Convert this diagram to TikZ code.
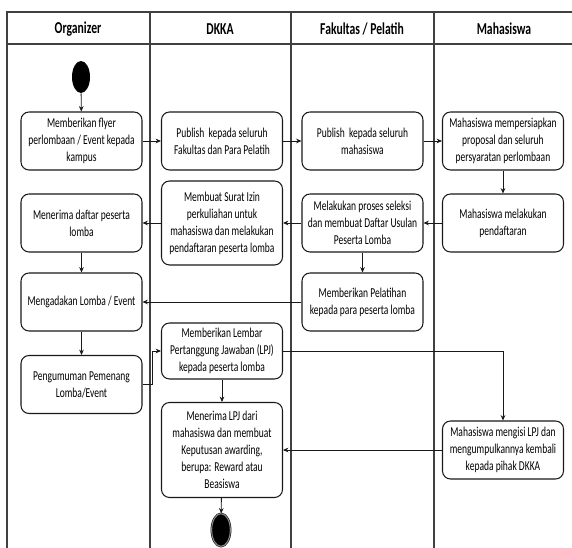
\documentclass[tikz,border=0pt]{standalone}
\usepackage{fontspec}
\setmainfont{Carlito}[FakeStretch=0.7]
\usetikzlibrary{arrows.meta,shapes.geometric}

\begin{document}
\begin{tikzpicture}[x=0.75pt,y=-0.75pt,
    lane/.style={draw=black!75,line width=0.8pt},
    head/.style={font=\fontsize{12.5}{14}\selectfont\bfseries},
    act/.style={draw=black!90,line width=0.8pt,rounded corners=6pt,fill=white,
      minimum width=90.75pt,minimum height=43.5pt,align=center,inner sep=2pt,
      font=\fontsize{10.2}{12.8}\selectfont},
    startdot/.style={ellipse,fill=black,inner sep=0pt,
      minimum width=13.5pt,minimum height=24pt},
    stopdot/.style={ellipse,draw=black,fill=black,double=black!45,
      double distance=0.8pt,inner sep=0pt,minimum width=14pt,minimum height=24.5pt},
    flow/.style={draw=black!90,line width=0.6pt,-{Stealth[length=4pt,width=3.5pt]}}]
  \useasboundingbox (0,0) rectangle (572,548);
  % swimlanes
  \draw[lane] (572,12) -- (7,12) -- (7,548);
  \draw[lane] (7,44) -- (572,44);
  \foreach \x in {150,291,434}{
    \draw[lane](\x,12)--(\x,548);
  }
  \node[head] (hOrg) at (78,29) {Organizer};
  \node[head] (hDkka) at (220,29) {DKKA};
  \node[head] (hFak) at (362,29) {Fakultas / Pelatih};
  \node[head] (hMhs) at (504,29) {Mahasiswa};

  % activities
  \node[startdot] (start) at (81,77) {};
  \node[act] (o1) at (81.5,141) {Memberikan flyer\\perlombaan / Event kepada\\kampus};
  \node[act] (d1) at (222,141) {Publish\ \ kepada seluruh\\Fakultas dan Para Pelatih};
  \node[act] (f1) at (362.5,141) {Publish\ \ kepada seluruh\\mahasiswa};
  \node[act] (m1) at (503,141) {Mahasiswa mempersiapkan\\proposal dan seluruh\\persyaratan perlombaan};

  \node[act] (o2) at (81.5,223) {Menerima daftar peserta\\lomba};
  \node[act,minimum height=63pt] (d2) at (222,223) {Membuat Surat Izin\\perkuliahan untuk\\mahasiswa dan melakukan\\pendaftaran peserta lomba};
  \node[act] (f2) at (362.5,223) {Melakukan proses seleksi\\dan membuat Daftar Usulan\\Peserta Lomba};
  \node[act] (m2) at (503,223) {Mahasiswa melakukan\\pendaftaran};

  \node[act] (o3) at (81.5,302) {Mengadakan Lomba / Event};
  \node[act] (f3) at (362.5,302) {Memberikan Pelatihan\\kepada para peserta lomba};

  \node[act] (o4) at (81.5,384.5) {Pengumuman Pemenang\\Lomba/Event};
  \node[act,minimum height=42pt] (d3) at (222,351) {Memberikan Lembar\\Pertanggung Jawaban (LPJ)\\kepada peserta lomba};
  \node[act,minimum height=71.25pt] (d4) at (222,450) {Menerima LPJ dari\\mahasiswa dan membuat\\Keputusan awarding,\\berupa: Reward atau\\Beasiswa};
  \node[act] (m3) at (503,450) {Mahasiswa mengisi LPJ dan\\mengumpulkannya kembali\\kepada pihak DKKA};
  \node[stopdot] (stop) at (221,530) {};
  \coordinate (bend) at (152,384.5);

  % flows
  \draw[flow] (start) -- (o1);
  \draw[flow] (o1) -- (d1);
  \draw[flow] (d1) -- (f1);
  \draw[flow] (f1) -- (m1);
  \draw[flow] (m1) -- (m2);
  \draw[flow] (m2) -- (f2);
  \draw[flow] (f2) -- (d2);
  \draw[flow] (d2) -- (o2);
  \draw[flow] (o2) -- (o3);
  \draw[flow] (f2) -- (f3);
  \draw[flow] (f3) -- (o3);
  \draw[flow] (o3) -- (o4);
  \draw[flow] (o4.east) -- (bend) |- (d3.west);
  \draw[flow] (d3.east) -| (m3.north);
  \draw[flow] (d3) -- (d4);
  \draw[flow] (m3) -- (d4);
  \draw[flow] (d4) -- (stop);
\end{tikzpicture}
\end{document}
